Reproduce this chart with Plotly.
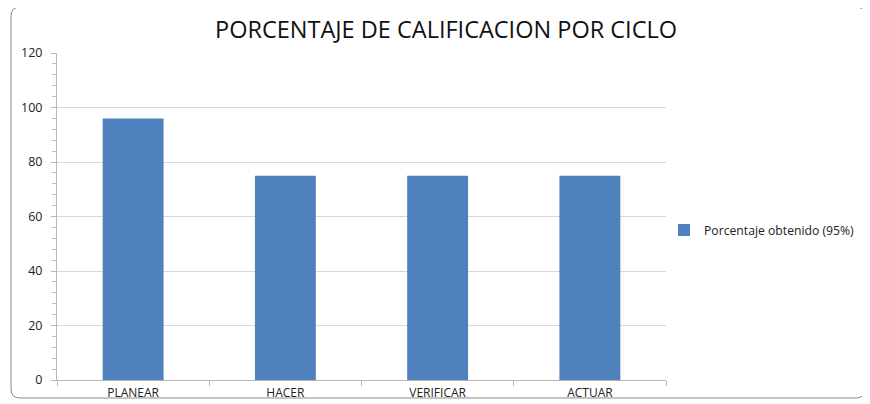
import plotly.graph_objects as go

categories = ["PLANEAR", "HACER", "VERIFICAR", "ACTUAR"]
values = [96, 75, 75, 75]
series_name = "Porcentaje obtenido (95%)"
title_text = "PORCENTAJE DE CALIFICACION POR CICLO"

# the page body adds an 8px offset; lay the figure out in reference pixels minus that offset
OFF = 8
W, H = 870 - OFF, 404 - OFF
L, R, T, B = 57 - OFF, 870 - 666, 53 - OFF, 404 - 380
pw, ph = W - L - R, H - T - B

def P(x, y):
    x -= OFF
    y -= OFF
    return f"{(x - L) / pw:.5f},{(H - B - y) / ph:.5f}"

x0, y0, x1, y1, r = 11, 7, 865, 398, 9
path = (f"M {P(x0+r,y0)} L {P(x1-r,y0)} Q {P(x1,y0)} {P(x1,y0+r)} "
        f"L {P(x1,y1-r)} Q {P(x1,y1)} {P(x1-r,y1)} L {P(x0+r,y1)} "
        f"Q {P(x0,y1)} {P(x0,y1-r)} L {P(x0,y0+r)} Q {P(x0,y0)} {P(x0+r,y0)} Z")

fig = go.Figure()
fig.add_trace(go.Bar(
    x=categories, y=values, name=series_name,
    marker=dict(color="#4f81bd", line=dict(width=0)),
    width=0.4, showlegend=True,
))

fig.update_layout(
    width=W, height=H,
    margin=dict(l=L, r=R, t=T, b=B, autoexpand=False),
    paper_bgcolor="white", plot_bgcolor="white",
    font=dict(family="Open Sans, DejaVu Sans, sans-serif", color="#222"),
    title=dict(text=title_text, x=(446 - OFF) / W, xanchor="center",
               y=1 - (30 - OFF) / H, yanchor="middle",
               font=dict(size=23.5, color="#111")),
    showlegend=True,
    legend=dict(x=(664 - OFF - L) / pw, y=(380 - 230) / 327, xanchor="left", yanchor="middle",
                font=dict(size=12.2, color="#222"), bgcolor="rgba(0,0,0,0)",
                itemwidth=30),
    shapes=[dict(type="path", xref="paper", yref="paper", path=path,
                 line=dict(color="#8a8a8a", width=1), fillcolor="rgba(0,0,0,0)", layer="below")],
)
fig.update_xaxes(
    showline=True, linecolor="#b8b8b8", linewidth=1,
    ticks="outside", tickson="boundaries", ticklen=5, tickcolor="#b8b8b8",
    tickfont=dict(size=12, color="#222"), showgrid=False, ticklabelstandoff=2,
)
fig.update_yaxes(
    range=[0, 120], dtick=20, tick0=0,
    showline=True, linecolor="#b8b8b8", linewidth=1,
    ticks="outside", ticklen=5, tickcolor="#b8b8b8",
    tickfont=dict(size=12.5, color="#222"), ticklabelstandoff=6,
    showgrid=True, gridcolor="#d9d9d9", gridwidth=1,
    zeroline=False,
    minor=dict(dtick=4, ticks="outside", ticklen=4, tickcolor="#c0c0c0", showgrid=False),
)

fig.write_html("out.html")
